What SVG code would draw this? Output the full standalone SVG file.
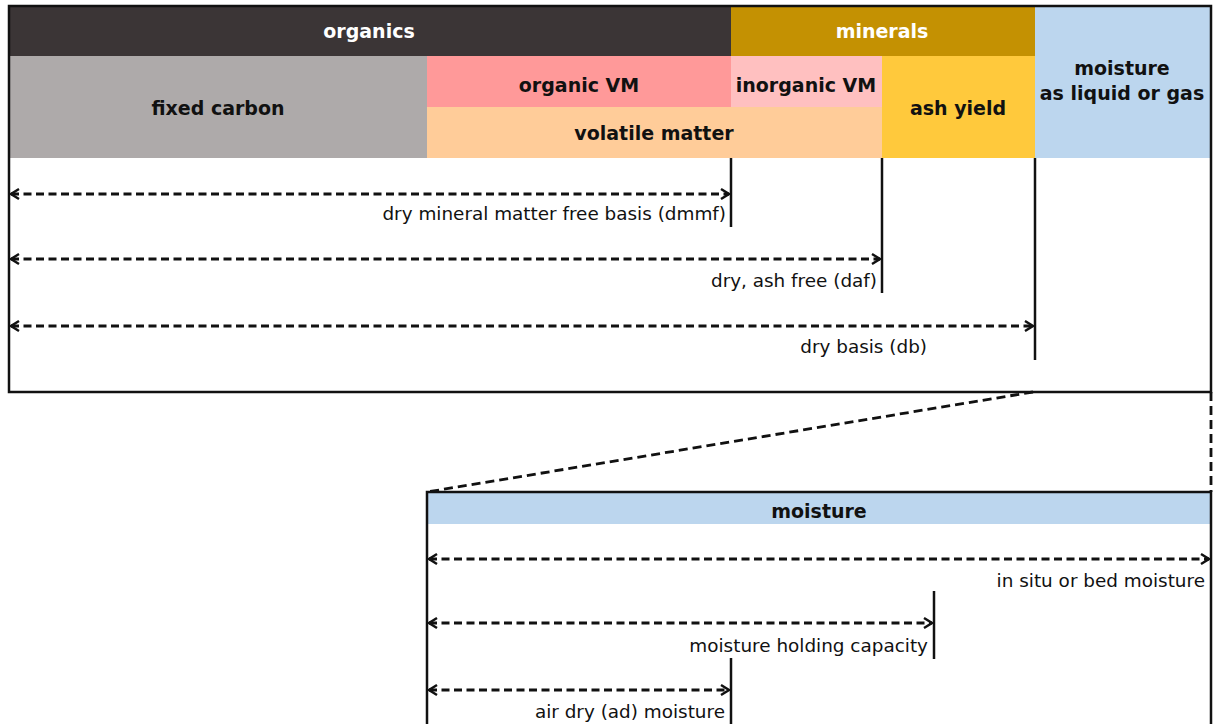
<svg xmlns="http://www.w3.org/2000/svg" width="1218" height="724" viewBox="0 0 1218 724">
<defs>
<style>
.hb{font-family:"DejaVu Sans",Verdana,sans-serif;font-weight:bold;font-size:19px;text-anchor:middle;fill:#111}
.hw{fill:#fff}
.lb{font-family:"DejaVu Sans",Verdana,sans-serif;font-size:18.4px;text-anchor:end;fill:#111}
.frame{fill:none;stroke:#111;stroke-width:2.5}
.tick{stroke:#111;stroke-width:2.5}
.arr{stroke:#111;stroke-width:2.8;stroke-dasharray:8 4.5;fill:none;marker-start:url(#ah);marker-end:url(#ah)}
.zoom{stroke:#111;stroke-width:2.8;stroke-dasharray:9 5;fill:none}
</style>
<marker id="ah" viewBox="-10 -6 12 12" markerWidth="12" markerHeight="12" refX="0" refY="0" orient="auto-start-reverse" markerUnits="userSpaceOnUse">
<path d="M-8,-5 L0,0 L-8,5" fill="none" stroke="#111" stroke-width="2.4"/>
</marker>
</defs>
<rect width="1218" height="724" fill="#fff"/>
<g id="organics"><rect x="9" y="6" width="722" height="50" fill="#3b3536"/><text class="hb hw" x="369" y="38">organics</text></g>
<g id="minerals"><rect x="731" y="6" width="304" height="50" fill="#c49102"/><text class="hb hw" x="882" y="38">minerals</text></g>
<g id="fixed-carbon"><rect x="9" y="56" width="418" height="102" fill="#aeaaaa"/><text class="hb" x="218" y="115">fixed carbon</text></g>
<g id="organic-vm"><rect x="427" y="56" width="304" height="51" fill="#ff9999"/><text class="hb" x="579" y="92">organic VM</text></g>
<g id="inorganic-vm"><rect x="731" y="56" width="151" height="51" fill="#ffc0c0"/><text class="hb" x="806" y="92">inorganic VM</text></g>
<g id="volatile-matter"><rect x="427" y="107" width="455" height="51" fill="#ffcc99"/><text class="hb" x="654" y="140">volatile matter</text></g>
<g id="ash-yield"><rect x="882" y="56" width="153" height="102" fill="#ffc93c"/><text class="hb" x="958" y="115">ash yield</text></g>
<g id="moisture-top"><rect x="1035" y="6" width="175" height="152" fill="#bcd6ee"/><text class="hb" x="1122" y="75">moisture</text><text class="hb" x="1122" y="100">as liquid or gas</text></g>
<g id="top-frame"><rect class="frame" x="9" y="6" width="1202" height="386"/></g>
<g id="moisture-box">
<rect x="427" y="492" width="784" height="32" fill="#bcd6ee"/>
<path class="frame" d="M427,726 V492 H1211 V726"/>
<text class="hb" x="819" y="518">moisture</text>
</g>
<g id="connectors">
<line class="zoom" x1="1033" y1="392" x2="427" y2="492"/>
<line class="zoom" x1="1211" y1="392" x2="1211" y2="492"/>
<line class="tick" x1="731" y1="158" x2="731" y2="227"/>
<line class="tick" x1="882" y1="158" x2="882" y2="293"/>
<line class="tick" x1="1035" y1="158" x2="1035" y2="360"/>
<line class="arr" x1="11" y1="194" x2="729" y2="194"/>
<line class="arr" x1="11" y1="259" x2="880" y2="259"/>
<line class="arr" x1="11" y1="326" x2="1033" y2="326"/>
<line class="tick" x1="934" y1="591" x2="934" y2="659"/>
<line class="tick" x1="731" y1="658" x2="731" y2="726"/>
<line class="arr" x1="429" y1="559" x2="1209" y2="559"/>
<line class="arr" x1="429" y1="623" x2="932" y2="623"/>
<line class="arr" x1="429" y1="690" x2="729" y2="690"/>
</g>
<g id="labels">
<text class="lb" x="726" y="220">dry mineral matter free basis (dmmf)</text>
<text class="lb" x="877" y="287">dry, ash free (daf)</text>
<text class="lb" x="927" y="353">dry basis (db)</text>
<text class="lb" x="1205" y="587">in situ or bed moisture</text>
<text class="lb" x="928" y="652">moisture holding capacity</text>
<text class="lb" x="725" y="718">air dry (ad) moisture</text>
</g>
</svg>
